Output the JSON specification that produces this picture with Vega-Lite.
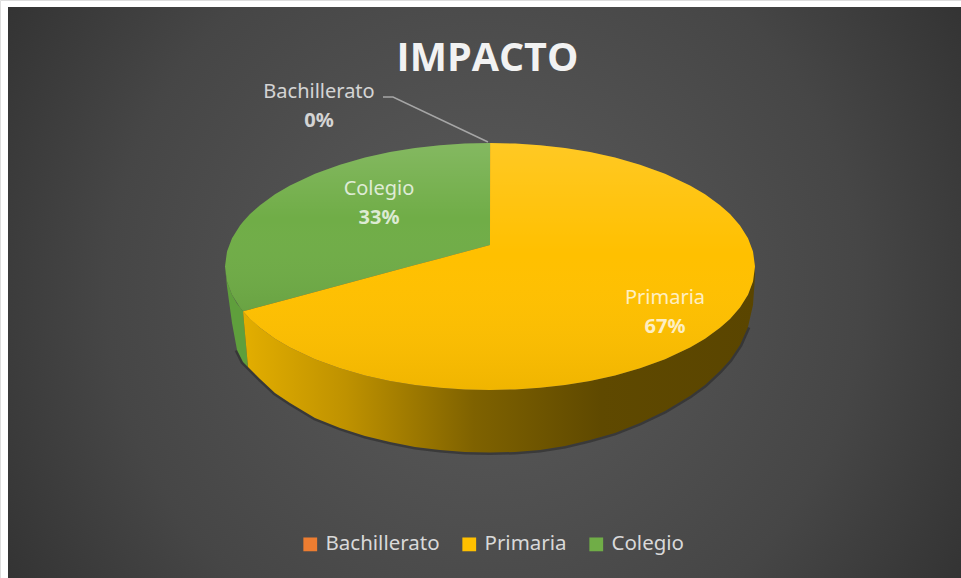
{"$schema":"https://vega.github.io/schema/vega-lite/v6.json","width":961,"height":578,"autosize":{"type":"fit","contains":"padding"},"padding":0,"background":"white",
"datasets":{
"frame":[{"x":-482,"x2":471,"y":259.5,"y2":-311.5}],
"shares":[
{"slice":"Bachillerato","share":0,"x":-171,"yName":174.5,"yShare":145.5},
{"slice":"Primaria","share":0.67,"x":175,"yName":-31,"yShare":-60.5},
{"slice":"Colegio","share":0.33,"x":-111,"yName":78,"yShare":49}],
"leader":[{"x":-107,"y":169.5},{"x":-97,"y":169.5},{"x":-2,"y":124.5}],
"heading":[{"text":"IMPACTO","x":-2.5,"y":208}],
"side":[
{"part":"Colegio","x":-265,"y":0,"y2":0},{"part":"Colegio","x":-263,"y":-15,"y2":-20},{"part":"Colegio","x":-258,"y":-28.2,"y2":-56.5},{"part":"Colegio","x":-253,"y":-37,"y2":-83.5},{"part":"Colegio","x":-247,"y":-44.8,"y2":-95.5},{"part":"Colegio","x":-242,"y":-100.5,"y2":-100.5},
{"part":"Primaria","x":-247,"y":-44.8,"y2":-44.8},{"part":"Primaria","x":-242,"y":-50.3,"y2":-100.5},{"part":"Primaria","x":-230,"y":-61.3,"y2":-112.5},{"part":"Primaria","x":-215,"y":-72.2,"y2":-126.5},{"part":"Primaria","x":-200,"y":-81,"y2":-136.5},{"part":"Primaria","x":-175,"y":-92.7,"y2":-151.5},{"part":"Primaria","x":-150,"y":-101.8,"y2":-161.5},{"part":"Primaria","x":-125,"y":-108.9,"y2":-169.5},{"part":"Primaria","x":-100,"y":-114.4,"y2":-175.5},{"part":"Primaria","x":-75,"y":-118.4,"y2":-180.5},{"part":"Primaria","x":-50,"y":-121.3,"y2":-183.5},{"part":"Primaria","x":-25,"y":-122.9,"y2":-185.5},{"part":"Primaria","x":0,"y":-123.5,"y2":-186},{"part":"Primaria","x":25,"y":-122.9,"y2":-185.5},{"part":"Primaria","x":50,"y":-121.3,"y2":-183.5},{"part":"Primaria","x":75,"y":-118.4,"y2":-179.5},{"part":"Primaria","x":100,"y":-114.4,"y2":-173.5},{"part":"Primaria","x":125,"y":-108.9,"y2":-166.5},{"part":"Primaria","x":150,"y":-101.8,"y2":-156.5},{"part":"Primaria","x":175,"y":-92.7,"y2":-144.5},{"part":"Primaria","x":200,"y":-81,"y2":-129.5},{"part":"Primaria","x":215,"y":-72.2,"y2":-118.5},{"part":"Primaria","x":230,"y":-61.3,"y2":-104.5},{"part":"Primaria","x":240,"y":-52.4,"y2":-93.5},{"part":"Primaria","x":250,"y":-41,"y2":-78.5},{"part":"Primaria","x":258,"y":-28.2,"y2":-60.5},{"part":"Primaria","x":263,"y":-15.1,"y2":-38.5},{"part":"Primaria","x":265,"y":0,"y2":-10}],
"top":[
{"slice":"Colegio","x":-265,"y":0,"y2":0},{"slice":"Colegio","x":-263,"y":15.1,"y2":-15.1},{"slice":"Colegio","x":-258,"y":28.2,"y2":-28.2},{"slice":"Colegio","x":-250,"y":41,"y2":-41},{"slice":"Colegio","x":-247,"y":44.8,"y2":-44.8},{"slice":"Colegio","x":-240,"y":52.4,"y2":-42.9},{"slice":"Colegio","x":-230,"y":61.3,"y2":-40.2},{"slice":"Colegio","x":-215,"y":72.2,"y2":-36.2},{"slice":"Colegio","x":-200,"y":81,"y2":-32.2},{"slice":"Colegio","x":-175,"y":92.7,"y2":-25.5},{"slice":"Colegio","x":-150,"y":101.8,"y2":-18.8},{"slice":"Colegio","x":-125,"y":108.9,"y2":-12},{"slice":"Colegio","x":-100,"y":114.4,"y2":-5.3},{"slice":"Colegio","x":-75,"y":118.4,"y2":1.4},{"slice":"Colegio","x":-50,"y":121.3,"y2":8.1},{"slice":"Colegio","x":-25,"y":122.9,"y2":14.8},{"slice":"Colegio","x":0,"y":123.5,"y2":21.5},
{"slice":"Primaria","x":-247,"y":-44.8,"y2":-44.8},{"slice":"Primaria","x":-240,"y":-42.9,"y2":-52.4},{"slice":"Primaria","x":-230,"y":-40.2,"y2":-61.3},{"slice":"Primaria","x":-215,"y":-36.2,"y2":-72.2},{"slice":"Primaria","x":-200,"y":-32.2,"y2":-81},{"slice":"Primaria","x":-175,"y":-25.5,"y2":-92.7},{"slice":"Primaria","x":-150,"y":-18.8,"y2":-101.8},{"slice":"Primaria","x":-125,"y":-12,"y2":-108.9},{"slice":"Primaria","x":-100,"y":-5.3,"y2":-114.4},{"slice":"Primaria","x":-75,"y":1.4,"y2":-118.4},{"slice":"Primaria","x":-50,"y":8.1,"y2":-121.3},{"slice":"Primaria","x":-25,"y":14.8,"y2":-122.9},{"slice":"Primaria","x":0,"y":21.5,"y2":-123.5},{"slice":"Primaria","x":0.1,"y":123.5,"y2":-123.5},{"slice":"Primaria","x":25,"y":122.9,"y2":-122.9},{"slice":"Primaria","x":50,"y":121.3,"y2":-121.3},{"slice":"Primaria","x":75,"y":118.4,"y2":-118.4},{"slice":"Primaria","x":100,"y":114.4,"y2":-114.4},{"slice":"Primaria","x":125,"y":108.9,"y2":-108.9},{"slice":"Primaria","x":150,"y":101.8,"y2":-101.8},{"slice":"Primaria","x":175,"y":92.7,"y2":-92.7},{"slice":"Primaria","x":200,"y":81,"y2":-81},{"slice":"Primaria","x":215,"y":72.2,"y2":-72.2},{"slice":"Primaria","x":230,"y":61.3,"y2":-61.3},{"slice":"Primaria","x":240,"y":52.4,"y2":-52.4},{"slice":"Primaria","x":250,"y":41,"y2":-41},{"slice":"Primaria","x":258,"y":28.2,"y2":-28.2},{"slice":"Primaria","x":263,"y":15.1,"y2":-15.1},{"slice":"Primaria","x":265,"y":0,"y2":0}]
},
"encoding":{
"x":{"field":"x","type":"quantitative","scale":{"domain":[-490,471],"nice":false,"zero":false},"axis":null},
"y":{"field":"y","type":"quantitative","scale":{"domain":[-311.5,266.5],"nice":false,"zero":false},"axis":null}},
"layer":[
{"data":{"name":"frame"},"mark":{"type":"rect","fill":{"gradient":"radial","x1":0.5,"y1":0.5,"r1":0,"x2":0.5,"y2":0.5,"r2":0.72,"stops":[{"offset":0,"color":"#5c5c5c"},{"offset":0.55,"color":"#464646"},{"offset":1,"color":"#262626"}]}},
"encoding":{"x2":{"field":"x2"},"y2":{"field":"y2"}}},
{"data":{"name":"side"},"transform":[{"filter":"datum.x >= -256 && datum.x <= 259 && !(datum.part === 'Primaria' && datum.x < -242)"}],"mark":{"type":"line","stroke":"#161616","strokeWidth":5,"opacity":0.4},
"encoding":{"y":{"field":"y2","type":"quantitative"},"detail":{"field":"part"}}},
{"data":{"name":"side"},"transform":[{"filter":"datum.part === 'Colegio'"}],"mark":{"type":"area","fill":"#5f9f3c"},
"encoding":{"y2":{"field":"y2"}}},
{"data":{"name":"side"},"transform":[{"filter":"datum.part === 'Primaria'"}],"mark":{"type":"area","fill":{"gradient":"linear","x1":0,"y1":0,"x2":1,"y2":0,"stops":[{"offset":0,"color":"#e3ae00"},{"offset":0.2,"color":"#bf9200"},{"offset":0.45,"color":"#7f6200"},{"offset":0.7,"color":"#5f4900"},{"offset":1,"color":"#5a4500"}]}},
"encoding":{"y2":{"field":"y2"}}},
{"data":{"name":"top"},"mark":{"type":"area"},
"encoding":{"y2":{"field":"y2"},"color":{"field":"slice","type":"nominal","scale":{"domain":["Bachillerato","Primaria","Colegio"],"range":["#ed7d31","#ffc000","#70ad47"]},
"legend":{"orient":"none","legendX":300,"legendY":534,"direction":"horizontal","title":null,"symbolType":"square","symbolSize":190,"symbolOpacity":1,"labelFontSize":20.5,"labelFont":"Noto Sans","labelColor":"#d9d9d9","columnPadding":19,"labelOffset":5}}}},
{"data":{"name":"top"},"mark":{"type":"area","fill":{"gradient":"linear","x1":0,"y1":0,"x2":0,"y2":1,"stops":[{"offset":0,"color":"rgba(255,255,255,0.14)"},{"offset":0.45,"color":"rgba(255,255,255,0)"},{"offset":1,"color":"rgba(0,0,0,0.06)"}]}},
"encoding":{"y2":{"field":"y2"},"detail":{"field":"slice"}}},
{"data":{"name":"leader"},"mark":{"type":"line","stroke":"#a6a6a6","strokeWidth":1.5},"encoding":{"order":{"field":"x"}}},
{"data":{"name":"shares"},"mark":{"type":"text","font":"Noto Sans","fontSize":20,"color":"#ffffff","opacity":0.76},
"encoding":{"y":{"field":"yName","type":"quantitative"},"text":{"field":"slice"}}},
{"data":{"name":"shares"},"mark":{"type":"text","font":"Noto Sans","fontSize":20,"fontWeight":"bold","color":"#ffffff","opacity":0.76},
"encoding":{"y":{"field":"yShare","type":"quantitative"},"text":{"field":"share","format":".0%"}}},
{"data":{"name":"heading"},"mark":{"type":"text","font":"Open Sans","fontSize":39.5,"fontWeight":"bold","color":"#f2f2f2"},
"encoding":{"text":{"field":"text"}}}
]}
